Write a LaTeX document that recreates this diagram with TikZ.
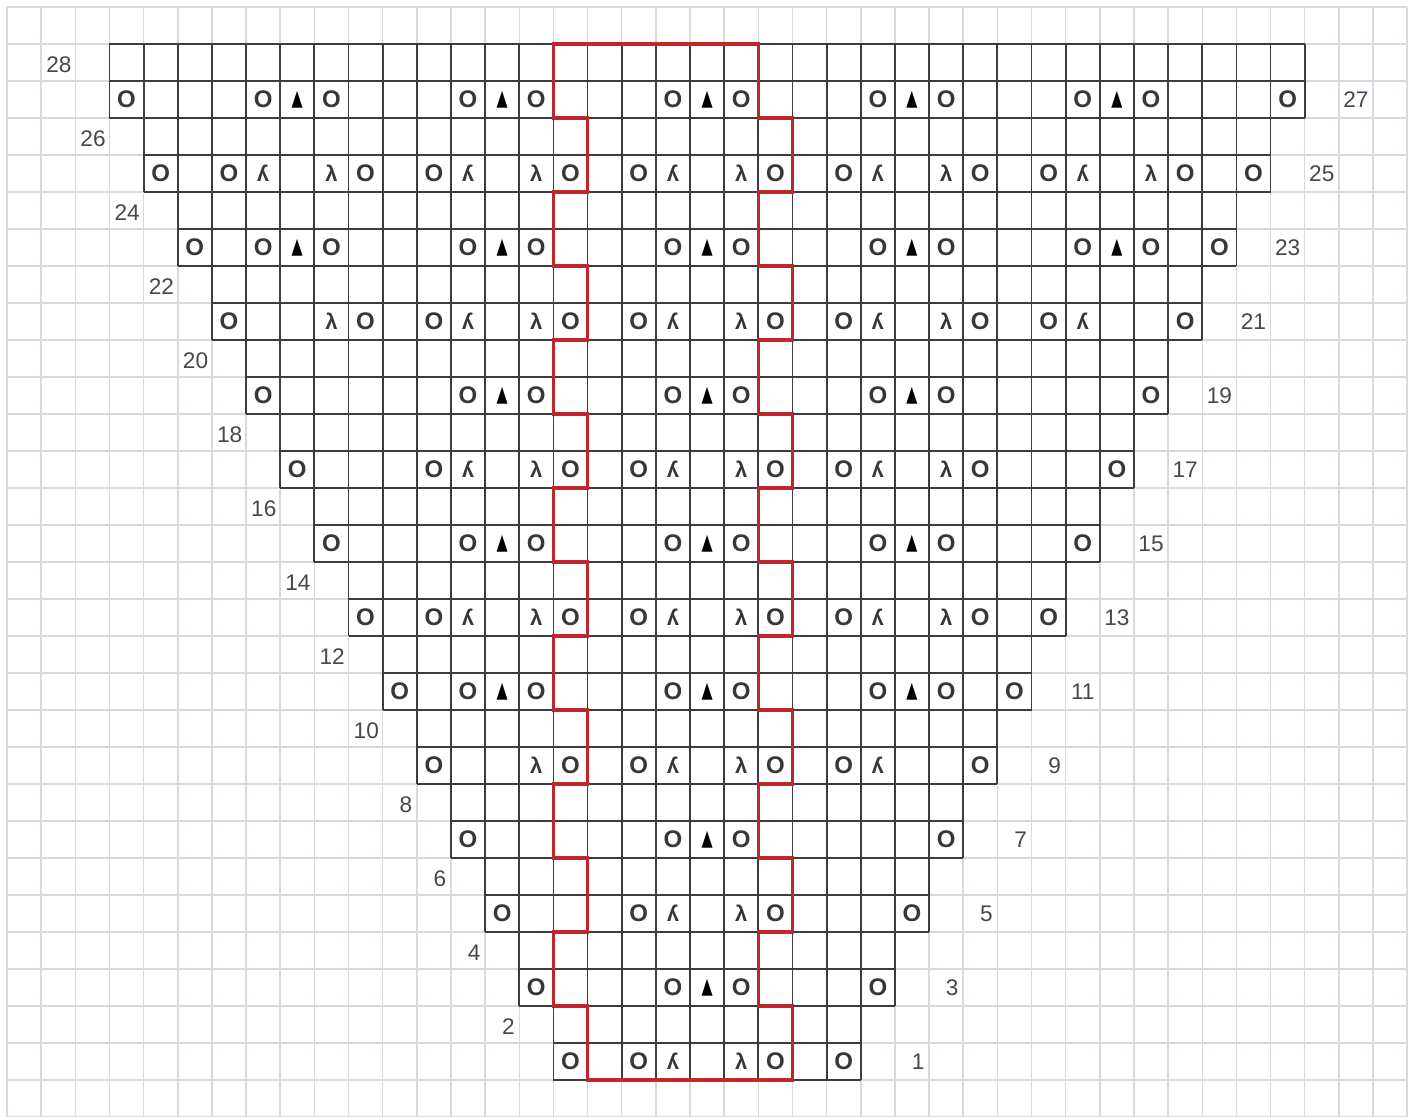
\documentclass[tikz,border=0pt]{standalone}
\usepackage{fontspec}
\setmainfont{Liberation Sans}
\newfontfamily\symfont{DejaVu Sans}
\usepackage{graphicx}
\definecolor{bggrid}{RGB}{214,217,226}
\definecolor{chartline}{RGB}{60,60,60}
\definecolor{repred}{RGB}{192,39,45}
\definecolor{symgrey}{RGB}{55,55,55}
\definecolor{lblgrey}{RGB}{72,72,72}
\begin{document}
\begin{tikzpicture}[x=17.075pt,y=-18.5pt,
  bgline/.style={draw=bggrid, line width=0.75pt},
  cellline/.style={draw=chartline, line width=0.9pt},
  repeatline/.style={draw=repred, line width=1.6pt, line join=miter},
  yo/.style={font=\bfseries\fontsize{12}{12}\selectfont, text=symgrey, inner sep=0pt},
  dec/.style={font=\bfseries\fontsize{11}{11}\selectfont, text=symgrey, inner sep=0pt},
  cdd/.style={font=\symfont\fontsize{10}{10}\selectfont, text=black, inner sep=0pt},
  rowlbl/.style={font=\fontsize{11.3}{12}\selectfont, text=lblgrey, inner sep=0pt}]
% canvas
\fill[white] (-0.205,-0.189) rectangle (41.347,30);
\useasboundingbox (-0.205,-0.189) rectangle (41.347,30);
% background grid
\foreach \i in {0,...,41} \draw[bgline] (\i,0) -- (\i,30);
\foreach \j in {0,...,30} \draw[bgline] (0,\j) -- (41,\j);
% chart cells (row pairs 2k+1, 2k+2)
\foreach \k in {0,...,13} {
  \pgfmathtruncatemacro{\xa}{16-\k}
  \pgfmathtruncatemacro{\xb}{25+\k}
  \pgfmathtruncatemacro{\ya}{27-2*\k}
  \pgfmathtruncatemacro{\yb}{29-2*\k}
  \fill[white] (\xa,\ya) rectangle (\xb,\yb);
  \foreach \i in {\xa,...,\xb} \draw[cellline] (\i,\ya) -- (\i,\yb);
  \foreach \j in {\ya,...,\yb} \draw[cellline] (\xa,\j) -- (\xb,\j);
}
% repeat outline
\draw[repeatline] (16,1) -- (22,1) -- (22,3) -- (23,3) -- (23,5) -- (22,5) -- (22,7) -- (23,7) -- (23,9) -- (22,9) -- (22,11) -- (23,11) -- (23,13) -- (22,13) -- (22,15) -- (23,15) -- (23,17) -- (22,17) -- (22,19) -- (23,19) -- (23,21) -- (22,21) -- (22,23) -- (23,23) -- (23,25) -- (22,25) -- (22,27) -- (23,27) -- (23,29)
  -- (17,29) -- (17,27) -- (16,27) -- (16,25) -- (17,25) -- (17,23) -- (16,23) -- (16,21) -- (17,21) -- (17,19) -- (16,19) -- (16,17) -- (17,17) -- (17,15) -- (16,15) -- (16,13) -- (17,13) -- (17,11) -- (16,11) -- (16,9) -- (17,9) -- (17,7) -- (16,7) -- (16,5) -- (17,5) -- (17,3) -- (16,3) -- cycle;
% yarn overs
\foreach \r/\cols in {1/{13,15,19,21}, 3/{12,16,18,22}, 5/{11,15,19,23}, 7/{10,16,18,24},
  9/{9,13,15,19,21,25}, 11/{8,10,12,16,18,22,24,26}, 13/{7,9,13,15,19,21,25,27},
  15/{6,10,12,16,18,22,24,28}, 17/{5,9,13,15,19,21,25,29}, 19/{4,10,12,16,18,22,24,30},
  21/{3,7,9,13,15,19,21,25,27,31}, 23/{2,4,6,10,12,16,18,22,24,28,30,32},
  25/{1,3,7,9,13,15,19,21,25,27,31,33}, 27/{0,4,6,10,12,16,18,22,24,28,30,34}}
  \foreach \c in \cols \node[yo] (yo-\r-\c) at (3.5+\c,29.5-\r) {O};
% right-leaning decreases
\foreach \r/\cols in {1/{18}, 5/{18}, 9/{12,18}, 13/{12,18,24}, 17/{12,18,24}, 21/{6,12,18,24}, 25/{6,12,18,24,30}}
  \foreach \c in \cols \node[dec] (rd-\r-\c) at (3.5+\c,29.5-\r) {λ};
% left-leaning decreases
\foreach \r/\cols in {1/{16}, 5/{16}, 9/{16,22}, 13/{10,16,22}, 17/{10,16,22}, 21/{10,16,22,28}, 25/{4,10,16,22,28}}
  \foreach \c in \cols \node[dec] (ld-\r-\c) at (3.5+\c,29.5-\r) {\reflectbox{λ}};
% centred double decreases
\foreach \r/\cols in {3/{17}, 7/{17}, 11/{11,17,23}, 15/{11,17,23}, 19/{11,17,23}, 23/{5,11,17,23,29}, 27/{5,11,17,23,29}}
  \foreach \c in \cols \node[cdd] (cd-\r-\c) at (3.5+\c,29.5-\r) {\scalebox{0.72}[1.1]{▲}};
% row numbers: odd on the right
\foreach \r in {1,3,5,7,9} {
  \pgfmathsetmacro{\xx}{26.68+(\r-1)/2}
  \node[rowlbl] (lbl-\r) at (\xx,29.5-\r) {\r};
}
\foreach \r in {11,13,...,27} {
  \pgfmathsetmacro{\xx}{26.5+(\r-1)/2}
  \node[rowlbl] (lbl-\r) at (\xx,29.5-\r) {\r};
}
% row numbers: even on the left
\foreach \r in {2,4,6,8} {
  \pgfmathsetmacro{\xx}{14.68-(\r-2)/2}
  \node[rowlbl] (lbl-\r) at (\xx,29.57-\r) {\r};
}
\foreach \r in {10,12,...,28} {
  \pgfmathsetmacro{\xx}{14.52-(\r-2)/2}
  \node[rowlbl] (lbl-\r) at (\xx,29.57-\r) {\r};
}
\end{tikzpicture}
\end{document}
